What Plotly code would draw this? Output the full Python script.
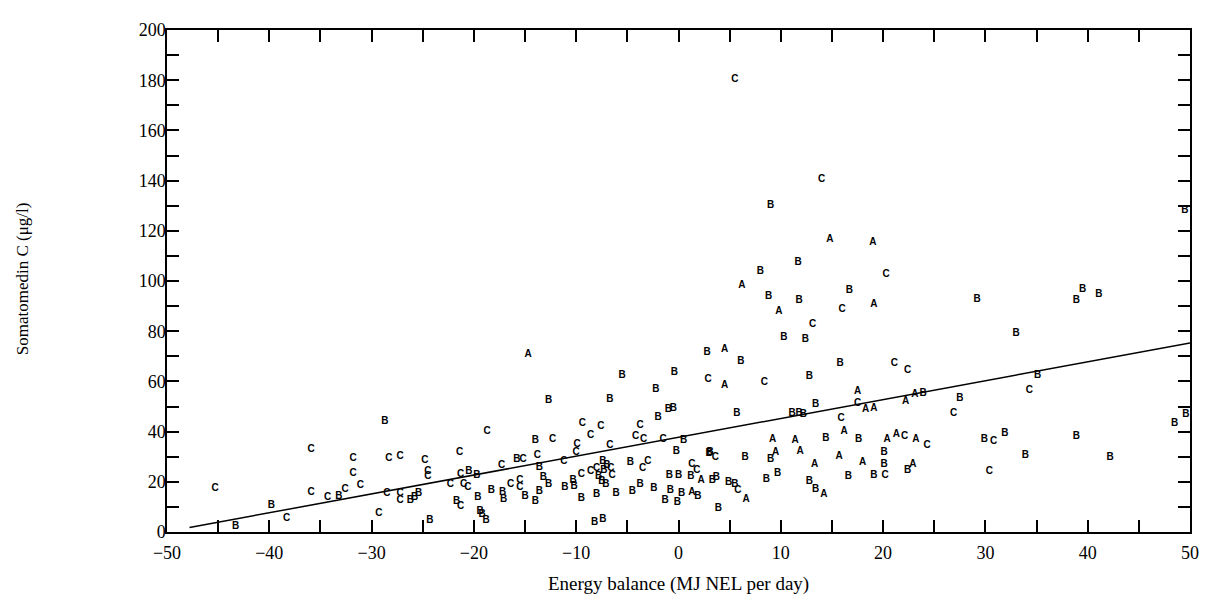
import plotly.graph_objects as go

# group A
a_x = [-14.7, 2.2, 1.3, 4.5, 4.5, 17.5, 18.3, 19.1, 16.2, 9.2, 11.4, 9.5, 11.9, 15.7, 18.0,
       13.3, 6.6, 14.2, 14.8, 19.0, 6.2, 19.1, 9.8, 22.2, 23.1, 20.4, 21.3, 23.2, 22.9]
a_y = [70.7, 20.7, 15.6, 72.9, 58.5, 56.0, 48.9, 49.1, 40.0, 37.0, 36.4, 31.8, 31.9, 30.2, 27.8,
       26.7, 12.8, 14.9, 116.5, 115.4, 98.4, 90.7, 88.0, 51.8, 54.6, 36.7, 38.7, 36.7, 26.7]

# group B
b_x = [-43.3, -39.8, -33.2, -28.7, -26.2, -25.8, -25.4, -24.3, -20.5, -21.7, -19.7, -19.6, -19.4, -19.2, -18.8, -18.3,
       -14.0, -13.6, -13.2, -15.8, -17.2, -17.1, -15.0, -14.0, -13.6,
       2.8, -5.5, -0.4, -2.2, -12.7, -6.7, -1.0, -0.5, -2.0, 0.5, -0.2, 3.0, -7.4, -4.7, -12.7, -11.1,
       -10.3, -10.2, -7.8, -7.3, -7.0, -7.5, -7.1, -9.5, -8.0, -6.1, -4.5, -3.75, -2.4, -0.9, 0.0, -0.8,
       -1.3, -0.1, 0.3, 1.2, 1.9, -8.2, -7.4,
       10.3, 12.4, 6.1, 15.8, 12.8, 13.4, 5.7, 11.1, 11.8, 12.2, 14.4, 17.6, 9.0, 3.1, 6.5, 3.3, 3.7,
       4.9, 5.5, 3.9, 8.6, 9.7, 12.8, 13.4, 16.6, 19.1,
       9.0, 11.7, 8.0, 16.7, 8.8, 11.8,
       33.0, 23.9, 27.5, 20.1, 20.1, 22.4, 29.9, 31.9,
       49.5, 29.2, 38.9, 39.5, 41.1, 35.1, 48.5, 49.6, 38.9, 33.9, 42.2]
b_y = [2.1, 10.6, 14.1, 43.9, 12.5, 13.8, 15.4, 4.7, 24.0, 12.3, 22.4, 13.8, 8.0, 7.0, 4.4, 16.5,
       36.5, 25.6, 21.7, 29.0, 15.8, 12.8, 14.1, 12.0, 16.1,
       71.4, 62.5, 63.5, 56.7, 52.4, 52.7, 48.9, 49.1, 45.5, 36.3, 32.2, 31.1, 28.2, 27.8, 18.8, 17.8,
       20.4, 18.0, 22.0, 24.5, 26.5, 20.0, 19.1, 13.2, 14.9, 15.2, 16.1, 18.8, 17.5, 22.7, 22.7, 16.5,
       12.5, 11.9, 15.2, 22.0, 14.2, 3.6, 5.0,
       77.6, 76.6, 68.1, 67.2, 62.0, 50.7, 47.2, 47.2, 47.2, 47.0, 37.4, 37.0, 28.9, 31.5, 29.8, 20.7, 21.7,
       19.7, 19.1, 9.5, 20.8, 23.3, 20.1, 17.1, 22.1, 22.7,
       129.9, 107.3, 103.6, 96.2, 93.8, 92.3,
       79.2, 55.0, 53.1, 31.5, 26.9, 24.6, 36.7, 39.1,
       128.2, 92.7, 92.3, 96.5, 94.6, 62.2, 43.3, 46.8, 38.0, 30.6, 29.5]

# group C
c_x = [-45.3, -38.3, -35.9, -35.9, -34.3, -32.6, -31.8, -31.8, -31.1, -29.3, -28.5, -28.3, -27.2, -27.2, -27.2,
       -24.8, -24.5, -24.5, -21.4, -22.3, -21.3, -21.0, -20.6, -21.3, -18.7,
       -13.8, -15.2, -17.3, -16.4, -15.5, -15.5,
       2.9, -9.4, -7.6, -8.6, -3.75, -12.3, -9.9, -10.0, -6.7, -4.2, -3.4, -1.5, -11.2, -3.0, -3.5,
       -9.5, -8.6, -8.0, -6.6, -6.5, 1.3, 1.8,
       8.4, 17.5, 15.9, 3.6, 5.8,
       14.0, 20.3, 16.0, 13.1, 5.5,
       21.1, 22.4, 26.9, 22.1, 24.3, 20.2, 30.8, 30.4, 34.3]
c_y = [17.5, 5.4, 32.8, 15.8, 13.8, 17.0, 29.1, 23.3, 18.7, 7.3, 15.2, 29.1, 30.2, 15.3, 12.5,
       28.6, 24.3, 22.1, 31.5, 19.1, 23.0, 19.1, 17.8, 10.2, 40.0,
       30.6, 29.0, 26.3, 19.1, 20.4, 17.8,
       60.9, 43.3, 42.0, 38.3, 42.4, 36.7, 34.8, 31.5, 34.5, 37.9, 36.7, 36.7, 28.2, 28.2, 25.2,
       23.0, 24.0, 25.3, 25.3, 22.5, 26.7, 24.6,
       59.6, 51.1, 45.2, 29.8, 16.5,
       140.4, 102.4, 88.6, 82.5, 180.3,
       67.1, 64.4, 47.2, 37.9, 34.5, 22.7, 36.1, 24.3, 56.4]

# regression line end points
line_x = [-47.8, 50]
line_y = [1.8, 75.3]

SERIF = "Liberation Serif, Times New Roman, serif"
letter_font = dict(family="Liberation Sans, Arial, sans-serif", size=10, color="black", weight="bold")

fig = go.Figure()
fig.add_trace(go.Scatter(x=line_x, y=line_y, mode="lines",
                         line=dict(color="black", width=1.5), hoverinfo="skip"))
for name, xs, ys in [("A", a_x, a_y), ("B", b_x, b_y), ("C", c_x, c_y)]:
    fig.add_trace(go.Scatter(x=xs, y=ys, mode="text", text=[name] * len(xs),
                             textposition="middle center", textfont=letter_font, name=name))

axis_common = dict(
    showline=True, linecolor="black", linewidth=1.5, mirror="ticks",
    ticks="inside", tickcolor="black", tickwidth=1.5, ticklen=12,
    showgrid=False, zeroline=False,
    tickfont=dict(family=SERIF, size=18, color="black"),
)

# the page body adds an 8px margin, so the figure is sized/offset for that
fig.update_layout(
    width=1203, height=587,
    margin=dict(l=159, r=12, t=14, b=63),
    paper_bgcolor="white", plot_bgcolor="white",
    showlegend=False,
    xaxis=dict(range=[-50, 50], dtick=10, tick0=0, ticklabelstandoff=4,
               minor=dict(dtick=5, ticks="inside", ticklen=12, tickcolor="black", tickwidth=1.5),
               **axis_common),
    yaxis=dict(range=[0, 200], dtick=20, tick0=0, ticklabelstandoff=-4,
               minor=dict(dtick=10, ticks="inside", ticklen=12, tickcolor="black", tickwidth=1.5),
               **axis_common),
    annotations=[
        dict(text="Energy balance (MJ NEL per day)", xref="paper", yref="paper",
             x=0.5, y=-0.104, xanchor="center", yanchor="middle", showarrow=False,
             font=dict(family=SERIF, size=19, color="black")),
        dict(text="Somatomedin C (μg/l)", xref="paper", yref="paper",
             x=-0.1405, y=0.504, xanchor="center", yanchor="middle", showarrow=False,
             textangle=-90, font=dict(family=SERIF, size=17, color="black")),
    ],
)

fig.write_html("out.html")
